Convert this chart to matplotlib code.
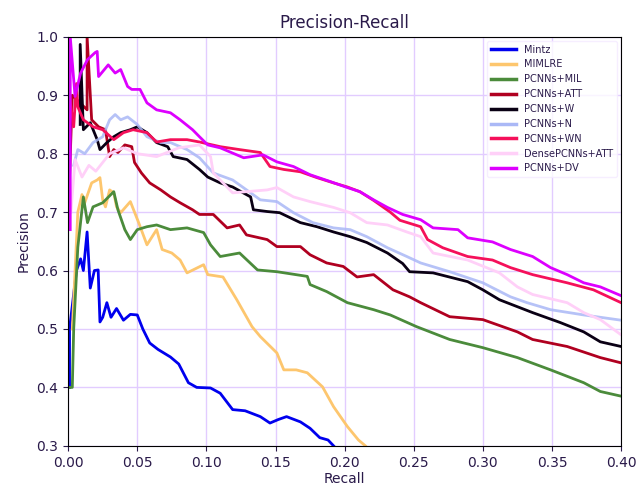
import numpy as np
import matplotlib.pyplot as plt

# values (recall, precision)
mintz_r = [0.001, 0.001, 0.004, 0.006, 0.009, 0.011, 0.0137, 0.016, 0.019, 0.0217, 0.023, 0.025, 0.028, 0.031, 0.035, 0.040, 0.045, 0.050,
           0.054, 0.059, 0.065, 0.074, 0.080, 0.087, 0.093, 0.103, 0.110, 0.119, 0.128, 0.139, 0.146, 0.152, 0.158, 0.168, 0.175, 0.182, 0.188, 0.192]
mintz_p = [0.40, 0.50, 0.56, 0.60, 0.62, 0.60, 0.666, 0.57, 0.60, 0.601, 0.512, 0.52, 0.545, 0.52, 0.535, 0.515, 0.525, 0.524,
           0.50, 0.476, 0.465, 0.452, 0.44, 0.408, 0.40, 0.399, 0.39, 0.362, 0.36, 0.35, 0.339, 0.345, 0.35, 0.341, 0.33, 0.314, 0.31, 0.30]

mimlre_r = [0.003, 0.005, 0.007, 0.010, 0.012, 0.017, 0.021, 0.023, 0.025, 0.027, 0.030, 0.033, 0.035, 0.038, 0.045, 0.051, 0.057, 0.064,
            0.068, 0.075, 0.081, 0.086, 0.098, 0.101, 0.112, 0.122, 0.133, 0.139, 0.151, 0.156, 0.165, 0.173, 0.184, 0.192, 0.202, 0.210, 0.215]
mimlre_p = [0.50, 0.60, 0.70, 0.73, 0.716, 0.75, 0.755, 0.759, 0.721, 0.709, 0.738, 0.733, 0.709, 0.699, 0.718, 0.682, 0.644, 0.67,
            0.636, 0.63, 0.618, 0.596, 0.61, 0.593, 0.589, 0.55, 0.504, 0.487, 0.459, 0.43, 0.43, 0.425, 0.401, 0.367, 0.333, 0.31, 0.30]

mil_r = [0.001, 0.003, 0.004, 0.007, 0.011, 0.014, 0.018, 0.025, 0.033, 0.036, 0.041, 0.045, 0.050, 0.057, 0.064, 0.074, 0.086, 0.098,
         0.103, 0.110, 0.124, 0.137, 0.151, 0.173, 0.175, 0.187, 0.202, 0.221, 0.233, 0.252, 0.276, 0.300, 0.325, 0.349, 0.373, 0.385, 0.400]
mil_p = [0.40, 0.40, 0.50, 0.64, 0.726, 0.682, 0.709, 0.716, 0.735, 0.704, 0.67, 0.653, 0.67, 0.675, 0.678, 0.67, 0.673, 0.665,
         0.644, 0.624, 0.63, 0.601, 0.598, 0.59, 0.576, 0.564, 0.545, 0.533, 0.524, 0.504, 0.482, 0.468, 0.451, 0.43, 0.408, 0.393, 0.385]

att_r = [0.001, 0.003, 0.0137, 0.0137, 0.017, 0.022, 0.027, 0.030, 0.033, 0.036, 0.041, 0.046, 0.048, 0.053, 0.059, 0.067, 0.074, 0.081,
         0.090, 0.095, 0.105, 0.115, 0.124, 0.129, 0.144, 0.151, 0.168, 0.175, 0.187, 0.199, 0.209, 0.221, 0.235, 0.247, 0.255, 0.276,
         0.300, 0.325, 0.336, 0.361, 0.385, 0.400]
att_p = [0.76, 0.90, 0.875, 1.00, 0.858, 0.846, 0.841, 0.795, 0.807, 0.802, 0.815, 0.812, 0.785, 0.767, 0.75, 0.738, 0.726, 0.716,
         0.704, 0.696, 0.696, 0.673, 0.678, 0.661, 0.653, 0.641, 0.641, 0.627, 0.613, 0.607, 0.589, 0.593, 0.567, 0.555, 0.545, 0.521,
         0.516, 0.495, 0.482, 0.47, 0.451, 0.442]

w_r = [0.0087, 0.0087, 0.011, 0.016, 0.021, 0.023, 0.028, 0.033, 0.038, 0.045, 0.050, 0.057, 0.064, 0.072, 0.076, 0.086, 0.095, 0.101,
       0.110, 0.119, 0.132, 0.134, 0.144, 0.153, 0.168, 0.180, 0.192, 0.204, 0.216, 0.231, 0.242, 0.247, 0.264, 0.289, 0.300, 0.312,
       0.336, 0.356, 0.373, 0.385, 0.400]
w_p = [0.85, 0.987, 0.841, 0.853, 0.824, 0.807, 0.819, 0.829, 0.836, 0.841, 0.846, 0.836, 0.819, 0.812, 0.795, 0.79, 0.773, 0.76,
       0.75, 0.743, 0.726, 0.704, 0.701, 0.699, 0.682, 0.675, 0.666, 0.658, 0.648, 0.63, 0.612, 0.598, 0.596, 0.581, 0.567, 0.55,
       0.528, 0.511, 0.495, 0.478, 0.47]

n_r = [0.004, 0.007, 0.012, 0.018, 0.025, 0.030, 0.034, 0.038, 0.043, 0.050, 0.057, 0.067, 0.074, 0.086, 0.095, 0.105, 0.119, 0.132,
       0.139, 0.151, 0.163, 0.177, 0.192, 0.204, 0.216, 0.231, 0.245, 0.255, 0.276, 0.300, 0.320, 0.332, 0.349, 0.373, 0.400]
n_p = [0.78, 0.807, 0.80, 0.819, 0.829, 0.858, 0.867, 0.858, 0.863, 0.85, 0.829, 0.819, 0.819, 0.807, 0.793, 0.767, 0.755, 0.733,
       0.721, 0.718, 0.699, 0.682, 0.673, 0.67, 0.658, 0.639, 0.624, 0.613, 0.598, 0.579, 0.555, 0.545, 0.533, 0.524, 0.515]

wn_r = [0.001, 0.001, 0.004, 0.006, 0.007, 0.011, 0.018, 0.025, 0.033, 0.040, 0.047, 0.057, 0.064, 0.074, 0.086, 0.095, 0.110, 0.124,
        0.139, 0.146, 0.156, 0.168, 0.180, 0.192, 0.202, 0.211, 0.221, 0.233, 0.240, 0.255, 0.260, 0.271, 0.289, 0.307, 0.320, 0.336,
        0.361, 0.380, 0.400]
wn_p = [0.75, 0.898, 0.846, 0.92, 0.88, 0.858, 0.846, 0.841, 0.824, 0.836, 0.841, 0.836, 0.82, 0.824, 0.824, 0.82, 0.812, 0.807,
        0.802, 0.778, 0.773, 0.769, 0.759, 0.75, 0.743, 0.735, 0.72, 0.70, 0.686, 0.675, 0.653, 0.639, 0.624, 0.618, 0.605, 0.593,
        0.579, 0.567, 0.545]

dense_r = [0.002, 0.005, 0.010, 0.015, 0.020, 0.030, 0.040, 0.050, 0.064, 0.080, 0.095, 0.103, 0.105, 0.119, 0.144, 0.151, 0.163, 0.175,
           0.192, 0.204, 0.216, 0.231, 0.245, 0.255, 0.264, 0.289, 0.312, 0.325, 0.336, 0.361, 0.373, 0.385, 0.400]
dense_p = [0.70, 0.79, 0.76, 0.78, 0.77, 0.80, 0.81, 0.80, 0.795, 0.81, 0.815, 0.795, 0.767, 0.733, 0.738, 0.742, 0.726, 0.718,
           0.708, 0.699, 0.682, 0.678, 0.666, 0.658, 0.63, 0.618, 0.596, 0.572, 0.559, 0.545, 0.528, 0.516, 0.49]

dv_r = [0.0015, 0.0015, 0.005, 0.009, 0.014, 0.0195, 0.021, 0.022, 0.029, 0.034, 0.038, 0.043, 0.046, 0.052, 0.057, 0.064, 0.074, 0.081,
        0.090, 0.095, 0.101, 0.110, 0.127, 0.141, 0.151, 0.163, 0.175, 0.190, 0.202, 0.211, 0.221, 0.231, 0.242, 0.255, 0.264, 0.282,
        0.289, 0.307, 0.320, 0.336, 0.349, 0.361, 0.373, 0.385, 0.400]
dv_p = [0.67, 1.00, 0.898, 0.938, 0.961, 0.973, 0.975, 0.932, 0.952, 0.938, 0.944, 0.915, 0.91, 0.91, 0.887, 0.875, 0.87, 0.858,
        0.841, 0.829, 0.815, 0.81, 0.793, 0.798, 0.786, 0.778, 0.764, 0.752, 0.742, 0.735, 0.721, 0.708, 0.696, 0.687, 0.673, 0.67,
        0.656, 0.649, 0.636, 0.624, 0.605, 0.593, 0.579, 0.572, 0.557]

names = ['Mintz', 'MIMLRE', 'PCNNs+MIL', 'PCNNs+ATT', 'PCNNs+W', 'PCNNs+N', 'PCNNs+WN', 'DensePCNNs+ATT', 'PCNNs+DV']
colors = ['#0000ee', '#fdc66e', '#4b8b3b', '#b00020', '#0a0014', '#aab8f6', '#f5105a', '#ffd0f8', '#dd00ff']
curves = [(mintz_r, mintz_p), (mimlre_r, mimlre_p), (mil_r, mil_p), (att_r, att_p), (w_r, w_p),
          (n_r, n_p), (wn_r, wn_p), (dense_r, dense_p), (dv_r, dv_p)]

txt = '#2a1a4a'
plt.rcParams['text.color'] = txt
plt.rcParams['xtick.color'] = txt
plt.rcParams['ytick.color'] = txt
plt.rcParams['axes.labelcolor'] = txt

fig = plt.figure(figsize=(6.37, 4.91), dpi=100)
ax = fig.add_axes([0.107, 0.092, 0.868, 0.833])

for (r, p), name, c in zip(curves, names, colors):
    a = 0.85 if name == 'PCNNs+N' else 1.0
    ax.plot(r, p, color=c, lw=2, label=name, alpha=a)

ax.set_xlim(0, 0.4)
ax.set_ylim(0.3, 1.0)
ax.set_xticks(np.arange(0, 0.401, 0.05))
ax.set_xticklabels(['%.2f' % v for v in np.arange(0, 0.401, 0.05)])
ax.grid(True, color='#e2ccff', lw=1)
ax.set_axisbelow(True)
ax.set_xlabel('Recall', fontsize=10, labelpad=2)
ax.set_ylabel('Precision', fontsize=10)
ax.set_title('Precision-Recall', fontsize=12, pad=6)
ax.tick_params(labelsize=10)

leg = ax.legend(loc='upper right', fontsize=7, handlelength=2.6, frameon=True, borderaxespad=0.4)
leg.get_frame().set_edgecolor('#f4eaff')
for line in leg.get_lines():
    line.set_linewidth(2.5)
    line.set_alpha(1)

fig.savefig('out.png', dpi=100)
